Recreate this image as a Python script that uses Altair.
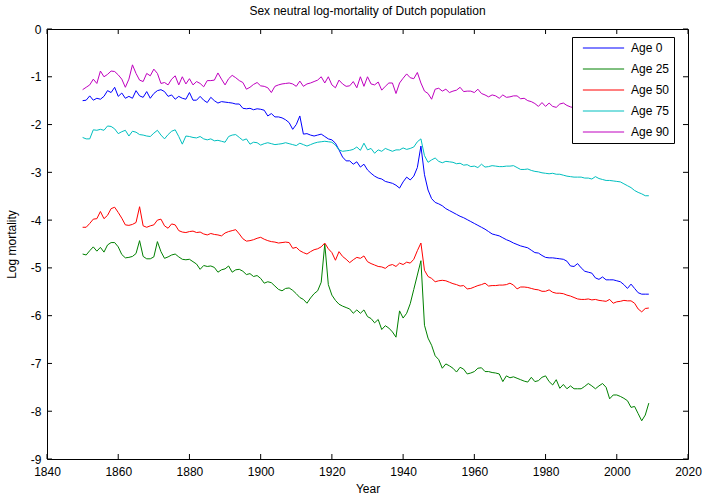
import altair as alt
import pandas as pd

# Log-mortality by calendar year, 1850-2009
YEARS = list(range(1850, 2010))

AGE_0 = [
    -1.50, -1.49, -1.40, -1.49, -1.45, -1.47, -1.41, -1.29, -1.33, -1.22,
    -1.41, -1.34, -1.45, -1.41, -1.45, -1.29, -1.40, -1.43, -1.31, -1.45,
    -1.35, -1.29, -1.27, -1.31, -1.41, -1.38, -1.47, -1.41, -1.45, -1.47,
    -1.33, -1.49, -1.49, -1.41, -1.49, -1.54, -1.43, -1.50, -1.55, -1.52,
    -1.53, -1.54, -1.55, -1.57, -1.57, -1.66, -1.67, -1.66, -1.69, -1.67,
    -1.68, -1.70, -1.82, -1.77, -1.84, -1.84, -1.86, -1.90, -1.96, -2.10,
    -2.00, -1.82, -2.20, -2.19, -2.22, -2.24, -2.22, -2.20, -2.25, -2.30,
    -2.32, -2.39, -2.53, -2.68, -2.76, -2.76, -2.83, -2.78, -2.89, -2.83,
    -2.95, -3.02, -3.08, -3.12, -3.14, -3.19, -3.21, -3.23, -3.27, -3.33,
    -3.20, -3.10, -3.16, -3.08, -2.90, -2.45, -3.05, -3.37, -3.55, -3.63,
    -3.66, -3.70, -3.76, -3.80, -3.84, -3.88, -3.92, -3.95, -3.99, -4.03,
    -4.07, -4.11, -4.15, -4.19, -4.24, -4.29, -4.31, -4.33, -4.37, -4.41,
    -4.44, -4.48, -4.51, -4.54, -4.56, -4.58, -4.63, -4.68, -4.69, -4.74,
    -4.78, -4.79, -4.79, -4.80, -4.81, -4.82, -4.86, -4.96, -4.97, -4.91,
    -5.00, -5.07, -5.09, -5.11, -5.21, -5.24, -5.19, -5.25, -5.25, -5.25,
    -5.27, -5.29, -5.35, -5.43, -5.34, -5.43, -5.52, -5.55, -5.55, -5.55,
]

AGE_25 = [
    -4.71, -4.73, -4.64, -4.56, -4.65, -4.57, -4.67, -4.52, -4.47, -4.47,
    -4.56, -4.72, -4.79, -4.78, -4.76, -4.70, -4.43, -4.76, -4.81, -4.81,
    -4.77, -4.45, -4.66, -4.80, -4.77, -4.73, -4.71, -4.77, -4.82, -4.83,
    -4.82, -4.87, -4.92, -5.03, -4.95, -4.97, -4.96, -4.99, -5.09, -5.04,
    -5.02, -4.96, -5.09, -5.04, -5.03, -5.07, -5.14, -5.12, -5.18, -5.16,
    -5.22, -5.32, -5.29, -5.31, -5.38, -5.45, -5.48, -5.43, -5.42, -5.47,
    -5.54, -5.62, -5.66, -5.74, -5.63, -5.54, -5.48, -5.30, -4.50, -5.35,
    -5.57, -5.68, -5.76, -5.80, -5.83, -5.86, -5.95, -5.88, -5.95, -5.88,
    -6.02, -6.06, -6.15, -6.08, -6.29, -6.21, -6.26, -6.34, -6.45, -5.90,
    -6.05, -5.95, -5.75, -5.45, -5.15, -4.85, -6.20, -6.47, -6.62, -6.84,
    -6.92, -7.10, -7.01, -7.05, -7.10, -7.18, -7.08, -7.12, -7.22, -7.20,
    -7.17, -7.10, -7.09, -7.17, -7.17, -7.19, -7.20, -7.22, -7.38, -7.26,
    -7.30, -7.28, -7.31, -7.34, -7.37, -7.39, -7.29, -7.38, -7.36, -7.29,
    -7.26, -7.38, -7.45, -7.34, -7.52, -7.44, -7.53, -7.47, -7.53, -7.53,
    -7.53, -7.48, -7.42, -7.47, -7.53, -7.47, -7.42, -7.50, -7.74, -7.66,
    -7.66, -7.69, -7.73, -7.78, -7.92, -7.90, -8.05, -8.20, -8.08, -7.83,
]

AGE_50 = [
    -4.15, -4.15, -4.07, -3.98, -3.97, -3.82, -3.97, -3.90, -3.76, -3.73,
    -3.84, -3.96, -4.10, -4.11, -4.09, -4.05, -3.72, -4.12, -4.15, -4.12,
    -4.10, -4.00, -3.98, -4.12, -4.17, -4.08, -4.10, -4.22, -4.25, -4.26,
    -4.24, -4.23, -4.26, -4.25, -4.29, -4.31, -4.28, -4.30, -4.31, -4.33,
    -4.27, -4.24, -4.22, -4.20, -4.29, -4.39, -4.44, -4.43, -4.41, -4.38,
    -4.36, -4.40, -4.43, -4.45, -4.46, -4.48, -4.47, -4.46, -4.47, -4.59,
    -4.57, -4.64, -4.68, -4.71, -4.66, -4.62, -4.60, -4.56, -4.48, -4.60,
    -4.68, -4.84, -4.66, -4.76, -4.82, -4.89, -4.83, -4.78, -4.80, -4.75,
    -4.87, -4.91, -4.94, -4.97, -4.98, -5.01, -4.95, -4.93, -4.97, -4.90,
    -4.93, -4.88, -4.90, -4.82, -4.64, -4.48, -5.05, -5.18, -5.22, -5.29,
    -5.27, -5.26, -5.27, -5.30, -5.33, -5.35, -5.38, -5.37, -5.44, -5.43,
    -5.40, -5.37, -5.35, -5.32, -5.38, -5.37, -5.37, -5.36, -5.36, -5.35,
    -5.32, -5.36, -5.44, -5.40, -5.40, -5.41, -5.43, -5.45, -5.46, -5.49,
    -5.49, -5.46, -5.51, -5.53, -5.53, -5.54, -5.57, -5.59, -5.62, -5.65,
    -5.66, -5.66, -5.65, -5.67, -5.66, -5.68, -5.69, -5.70, -5.66, -5.74,
    -5.71, -5.70, -5.68, -5.69, -5.69, -5.74, -5.86, -5.92, -5.85, -5.84,
]

AGE_75 = [
    -2.27, -2.30, -2.30, -2.11, -2.12, -2.10, -2.12, -2.03, -2.04, -2.09,
    -2.19, -2.15, -2.12, -2.24, -2.14, -2.16, -2.21, -2.22, -2.24, -2.25,
    -2.18, -2.12, -2.22, -2.30, -2.21, -2.14, -2.11, -2.25, -2.41, -2.24,
    -2.25, -2.27, -2.28, -2.25, -2.30, -2.32, -2.30, -2.34, -2.33, -2.35,
    -2.37, -2.25, -2.22, -2.21, -2.27, -2.33, -2.30, -2.41, -2.37, -2.38,
    -2.43, -2.40, -2.38, -2.40, -2.42, -2.41, -2.40, -2.38, -2.40, -2.42,
    -2.44, -2.39, -2.42, -2.45, -2.42, -2.39, -2.37, -2.36, -2.35, -2.36,
    -2.37, -2.43, -2.53, -2.56, -2.55, -2.54, -2.52, -2.47, -2.54, -2.39,
    -2.53, -2.50, -2.60, -2.53, -2.56, -2.50, -2.53, -2.56, -2.53, -2.53,
    -2.49, -2.52, -2.50, -2.47, -2.36, -2.30, -2.65, -2.79, -2.74, -2.70,
    -2.77, -2.80, -2.77, -2.78, -2.79, -2.82, -2.81, -2.85, -2.84, -2.88,
    -2.87, -2.90, -2.83, -2.89, -2.88, -2.86, -2.87, -2.88, -2.88, -2.87,
    -2.87, -2.86, -2.90, -2.94, -2.94, -2.93, -2.96, -2.98, -2.99, -3.01,
    -3.02, -3.03, -3.02, -3.04, -3.04, -3.06, -3.08, -3.09, -3.10, -3.10,
    -3.10, -3.12, -3.12, -3.14, -3.09, -3.13, -3.15, -3.17, -3.17, -3.18,
    -3.19, -3.20, -3.24, -3.28, -3.32, -3.38, -3.42, -3.45, -3.49, -3.49,
]

AGE_90 = [
    -1.27, -1.22, -1.17, -1.05, -1.14, -0.88, -1.00, -0.95, -0.88, -0.89,
    -0.96, -1.05, -1.22, -1.05, -0.75, -0.93, -1.07, -1.10, -0.93, -0.98,
    -0.84, -0.93, -1.14, -1.12, -1.17, -1.05, -0.98, -1.17, -1.00, -1.15,
    -1.04, -1.17, -1.10, -1.14, -1.21, -1.08, -1.08, -1.07, -0.92, -1.05,
    -1.17, -1.04, -0.97, -1.02, -1.08, -1.12, -1.26, -1.22, -1.16, -1.12,
    -1.19, -1.20, -1.23, -1.33, -1.20, -1.17, -1.15, -1.14, -1.13, -1.15,
    -1.20, -1.09, -1.20, -1.15, -1.13, -1.10, -1.07, -1.00, -1.13, -1.00,
    -1.17, -1.23, -1.07, -1.15, -1.20, -1.19, -1.10, -1.23, -1.00, -1.20,
    -1.00, -1.15, -1.17, -1.11, -1.28, -1.20, -1.13, -1.13, -1.35, -1.13,
    -1.03, -0.94, -1.02, -1.04, -0.91, -1.13, -1.30, -1.35, -1.47, -1.26,
    -1.24, -1.30, -1.26, -1.33, -1.30, -1.28, -1.22, -1.31, -1.30, -1.30,
    -1.33, -1.26, -1.35, -1.38, -1.42, -1.38, -1.40, -1.45, -1.38, -1.43,
    -1.42, -1.40, -1.40, -1.46, -1.45, -1.50, -1.52, -1.56, -1.62, -1.54,
    -1.62, -1.55, -1.62, -1.64, -1.57, -1.55, -1.60, -1.63, -1.65, -1.68,
    -1.66, -1.70, -1.68, -1.71, -1.70, -1.73, -1.72, -1.74, -1.76, -1.75,
    -1.78, -1.77, -1.80, -1.79, -1.82, -1.84, -1.86, -1.85, -1.88, -1.90,
]

SERIES = ["Age 0", "Age 25", "Age 50", "Age 75", "Age 90"]
COLORS = ["#0000ff", "#008000", "#ff0000", "#00bfbf", "#bf00bf"]
X_TICKS = [1840, 1860, 1880, 1900, 1920, 1940, 1960, 1980, 2000, 2020]
Y_TICKS = [0, -1, -2, -3, -4, -5, -6, -7, -8, -9]

FONT = "Liberation Sans"
W, H = 641, 430
TICK = 5

rows = []
for name, vals in zip(SERIES, [AGE_0, AGE_25, AGE_50, AGE_75, AGE_90]):
    for yr, v in zip(YEARS, vals):
        rows.append({"Year": yr, "Log mortality": v, "Series": name})
df = pd.DataFrame(rows)

x_scale = alt.Scale(domain=[1840, 2020], nice=False, zero=False)
y_scale = alt.Scale(domain=[-9, 0], nice=False, zero=False)

lines = alt.Chart(df).mark_line(strokeWidth=1, clip=True).encode(
    x=alt.X(
        "Year:Q",
        scale=x_scale,
        title="Year",
        axis=alt.Axis(
            values=X_TICKS, format="d", ticks=False, domain=False, grid=False,
            labelFont=FONT, labelFontSize=12, labelColor="black", labelPadding=7,
            labelFlush=False, labelOverlap=False,
            titleFont=FONT, titleFontSize=12, titleFontWeight="normal",
            titleColor="black", titlePadding=6,
        ),
    ),
    y=alt.Y(
        "Log mortality:Q",
        scale=y_scale,
        title="Log mortality",
        axis=alt.Axis(
            values=Y_TICKS, ticks=False, domain=False, grid=False,
            labelExpr="datum.value == 0 ? '0' : '-' + abs(datum.value)",
            labelFont=FONT, labelFontSize=12, labelColor="black", labelPadding=6,
            labelFlush=False, labelOverlap=False,
            titleFont=FONT, titleFontSize=12, titleFontWeight="normal",
            titleColor="black", titlePadding=12,
        ),
    ),
    color=alt.Color(
        "Series:N",
        scale=alt.Scale(domain=SERIES, range=COLORS),
        legend=alt.Legend(
            title=None, orient="none", legendX=525, legendY=8,
            symbolType="stroke", symbolSize=1700, symbolStrokeWidth=1,
            symbolOffset=6,
            labelFont=FONT, labelFontSize=12, labelColor="black", labelOffset=6,
            labelExpr="datum.label + '  '",
            fillColor="white", strokeColor="black", padding=4,
            rowPadding=7, clipHeight=14,
        ),
    ),
)

# inward tick marks on all four sides of the box
xt = pd.DataFrame({"Year": X_TICKS})
yt = pd.DataFrame({"Log mortality": Y_TICKS})
tick_x = alt.X("Year:Q", scale=x_scale, title="Year")
tick_y = alt.Y("Log mortality:Q", scale=y_scale, title="Log mortality")

top_ticks = alt.Chart(xt).mark_rule(color="black", strokeWidth=1).encode(
    x=tick_x, y=alt.value(0), y2=alt.value(TICK))
bottom_ticks = alt.Chart(xt).mark_rule(color="black", strokeWidth=1).encode(
    x=tick_x, y=alt.value(H - TICK), y2=alt.value(H))
left_ticks = alt.Chart(yt).mark_rule(color="black", strokeWidth=1).encode(
    y=tick_y, x=alt.value(0), x2=alt.value(TICK))
right_ticks = alt.Chart(yt).mark_rule(color="black", strokeWidth=1).encode(
    y=tick_y, x=alt.value(W - TICK), x2=alt.value(W))

chart = alt.layer(
    lines, top_ticks, bottom_ticks, left_ticks, right_ticks
).properties(
    width=W,
    height=H,
    autosize=alt.AutoSizeParams(type="none"),
    padding={"left": 47, "top": 29, "right": 16, "bottom": 39},
    background="white",
    title=alt.TitleParams(
        "Sex neutral log-mortality of Dutch population",
        font=FONT, fontSize=12, fontWeight="normal", color="black",
        anchor="middle", offset=5,
    ),
).configure_view(
    stroke="black", strokeWidth=1,
)

chart.save("out.html", embed_options={"renderer": "svg", "actions": False})
